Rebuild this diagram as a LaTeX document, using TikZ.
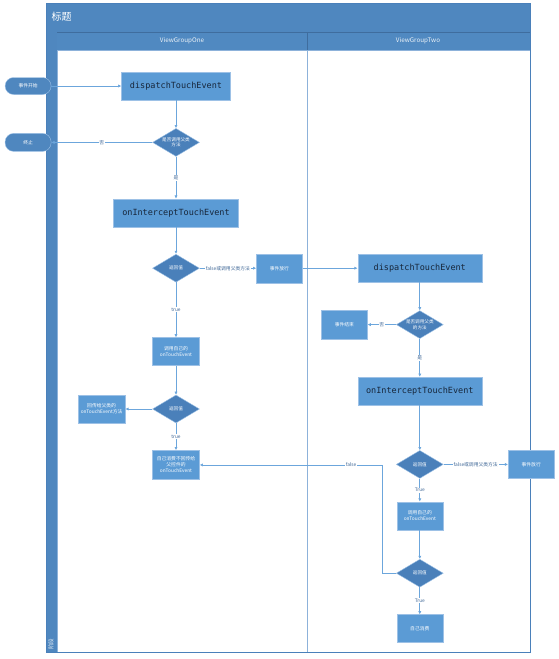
\documentclass[tikz,border=0pt]{standalone}
\usepackage{fontspec}
\setmainfont{Noto Sans CJK SC}
\setmonofont{DejaVu Sans Mono}
\usetikzlibrary{arrows.meta,positioning,shapes.geometric}
\definecolor{azulfaixa}{HTML}{4F87BF}
\definecolor{azulcabeca}{HTML}{5089C1}
\definecolor{azulcaixa}{HTML}{5B9BD5}
\definecolor{azulborda}{HTML}{9DC1E6}
\definecolor{azulescuro}{HTML}{4A80BA}
\definecolor{azullinha}{HTML}{6CA6DC}
\definecolor{azultexto}{HTML}{3E6696}
\definecolor{azulraia}{HTML}{8DB2DA}
\definecolor{textoescuro}{HTML}{17263A}

\begin{document}
\begin{tikzpicture}[
  x=1pt, y=-1pt,
  node distance=28pt and 28pt,
  proc/.style={draw=azulborda,fill=azulcaixa,minimum width=47pt,minimum height=28pt,
               inner sep=1pt,align=center,text=white,font=\fontsize{4.8}{6}\selectfont},
  metodo/.style={proc,minimum width=124pt,text=textoescuro,
                 font=\ttfamily\fontsize{8.5}{10}\selectfont},
  dec/.style={draw=azulborda,diamond,aspect=1.68,fill=azulescuro,minimum width=47pt,
              minimum height=28pt,inner sep=0pt,align=center,text=white,
              font=\fontsize{4.6}{5.6}\selectfont},
  term/.style={draw=azulborda,fill=azulfaixa,rounded corners=8.5pt,minimum width=46pt,
               minimum height=17pt,inner sep=0pt,text=white,font=\fontsize{4.8}{6}\selectfont},
  arr/.style={-{Latex[length=3.2pt,width=3.2pt]},draw=azullinha,line width=0.8pt},
  rot/.style={font=\fontsize{4.8}{6}\selectfont,text=azultexto,fill=white,inner sep=0.8pt},
  raia/.style={text=white!88!azulfaixa,font=\fontsize{6.3}{7}\selectfont}
]
  \useasboundingbox (0,0) rectangle (558,659);
  % piscina e raias
  \fill[azulfaixa] (46,3) rectangle (530,32);
  \fill[azulfaixa] (46,32) rectangle (57,652);
  \fill[azulcabeca] (57,32) rectangle (530,50);
  \draw[azulescuro!85!black,line width=0.4pt] (57,32) -- (530,32);
  \draw[azulraia,line width=0.9pt] (57,50) rectangle (530,652);
  \draw[azulraia,line width=0.9pt] (307,50) -- (307,652);
  \draw[azulescuro!85!black,line width=0.4pt] (307,32) -- (307,50);
  \draw[azulescuro,line width=0.5pt] (46,3) rectangle (530,652);
  \node[anchor=west,text=white,font=\fontsize{10}{12}\selectfont] (titulo) at (48,17) {标题};
  \node[raia] (raia1) at (182,41) {ViewGroupOne};
  \node[raia] (raia2) at (418,41) {ViewGroupTwo};
  \node[raia,rotate=90,font=\fontsize{5.5}{6}\selectfont] (fase) at (51,644) {阶段};

  % ViewGroupOne
  \node[metodo,minimum width=109pt] (disp1) at (176,86) {dispatchTouchEvent};
  \node[term,left=70pt of disp1] (inicio) {事件开始};
  \node[dec,below=28pt of disp1] (q1) {是否调用父类\\方法};
  \node[term,below=38.5pt of inicio,minimum height=18pt] (fim) {终止};
  \node[metodo,minimum width=125pt,below=42pt of q1] (icpt1) {onInterceptTouchEvent};
  \node[dec,below=27pt of icpt1] (ret1) {返回值};
  \node[proc,right=56.5pt of ret1,minimum width=46pt,minimum height=29pt] (passa1) {事件放行};
  \node[proc,below=55pt of ret1] (chama1) {调用自己的\\onTouchEvent};
  \node[dec,below=29pt of chama1] (ret2) {返回值};
  \node[proc,left=27pt of ret2] (volta1) {回传给父类的\\onTouchEvent方法};
  \node[proc,below=27pt of ret2,minimum height=29pt] (consome1) {自己消费不回传给\\父控件的\\onTouchEvent};

  % ViewGroupTwo
  \node[metodo,right=55pt of passa1] (disp2) {dispatchTouchEvent};
  \node[dec,below=28pt of disp2] (q2) {是否调用父类\\的方法};
  \node[proc,left=28.5pt of q2,minimum width=46pt,minimum height=29pt] (fim2) {事件结束};
  \node[metodo,below=38pt of q2] (icpt2) {onInterceptTouchEvent};
  \node[dec,below=45pt of icpt2] (ret3) {返回值};
  \node[proc,right=64.5pt of ret3,minimum width=46pt] (passa2) {事件放行};
  \node[proc,below=23pt of ret3,minimum width=46pt] (chama2) {调用自己的\\onTouchEvent};
  \node[dec,below=29pt of chama2] (ret4) {返回值};
  \node[proc,below=27pt of ret4,minimum width=46pt] (proprio2) {自己消费};

  % ligacoes
  \draw[arr] (inicio) -- (disp1);
  \draw[arr] (disp1) -- (q1);
  \draw[arr] (q1) -- node[rot]{否} (fim);
  \draw[arr] (q1) -- node[rot]{是} (icpt1);
  \draw[arr] (icpt1) -- (ret1);
  \draw[arr] (ret1) -- node[rot]{false或调用父类方法} (passa1);
  \draw[arr] (ret1) -- node[rot]{true} (chama1);
  \draw[arr] (chama1) -- (ret2);
  \draw[arr] (ret2) -- (volta1);
  \draw[arr] (ret2) -- node[rot]{true} (consome1);
  \draw[arr] (passa1) -- (disp2);
  \draw[arr] (disp2) -- (q2);
  \draw[arr] (q2) -- node[rot]{否} (fim2);
  \draw[arr] (q2) -- node[rot]{是} (icpt2);
  \draw[arr] (icpt2) -- (ret3);
  \draw[arr] (ret3) -- node[rot]{false或调用父类方法} (passa2);
  \draw[arr] (ret3) -- node[rot]{True} (chama2);
  \draw[arr] (chama2) -- (ret4);
  \draw[arr] (ret4) -- node[rot]{True} (proprio2);
  \draw[arr] (ret4.west) -- ++(-14,0) |- node[rot,pos=0.585]{false} (consome1.east);
\end{tikzpicture}
\end{document}
